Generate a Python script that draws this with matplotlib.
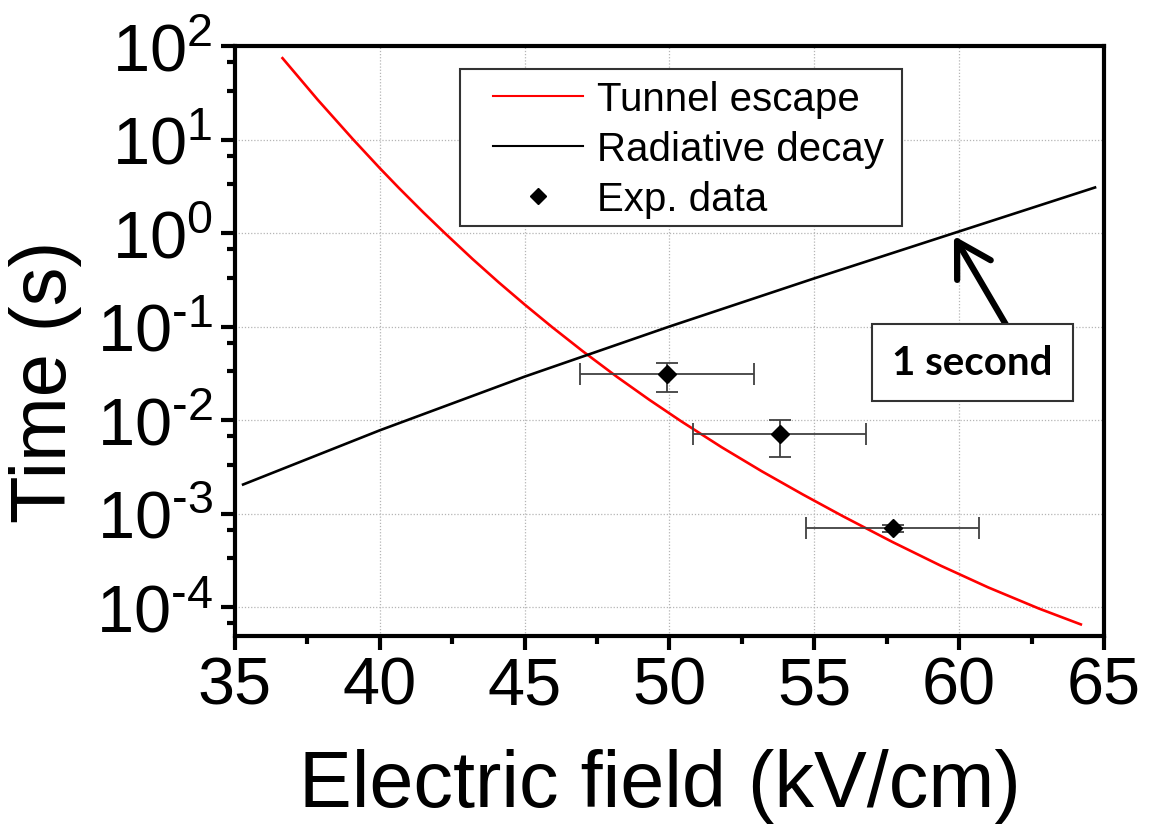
import math
import matplotlib
matplotlib.use("Agg")
import matplotlib.pyplot as plt
from matplotlib.ticker import LogLocator, MultipleLocator, FuncFormatter, NullFormatter
from matplotlib.lines import Line2D
from matplotlib.patches import Rectangle

# Tunnel escape time vs field
tunnel_field = [36.64, 37.86, 39.08, 40.0, 40.66, 41.5, 42.24, 43.2, 44.1,
                45.0, 45.95, 47.0, 48.18, 49.3, 50.4, 51.8, 53.19, 54.6,
                55.98, 57.7, 59.37, 61.0, 62.75, 64.2]
tunnel_time = [74.13, 26.51, 10.0, 4.932, 3.027, 1.663, 1.000, 0.5272, 0.2972,
               0.1718, 0.0984, 0.05458, 0.02904, 0.01648, 0.009705, 0.005117,
               0.002825, 0.001600, 0.0009376, 0.0004955, 0.0002761, 0.0001622,
               0.00009638, 0.00006516]

# Radiative decay time vs field
rad_field = [35.28, 40.0, 45.0, 50.0, 55.0, 60.0, 64.69]
rad_time = [0.002042, 0.007762, 0.02911, 0.1000, 0.3273, 1.040, 3.069]

# Measured lifetimes
exp_field = [49.9, 53.8, 57.7]
exp_time = [0.031, 0.0071, 0.00070]
exp_time_lo = [0.011, 0.0031, 0.00006]
exp_time_hi = [0.010, 0.0029, 0.00006]
exp_field_err = [3.0, 3.0, 3.0]

legend_labels = ["Tunnel escape", "Radiative decay", "Exp. data"]

plt.rcParams["font.family"] = ["Liberation Sans", "DejaVu Sans"]
plt.rcParams["mathtext.fontset"] = "custom"
plt.rcParams["mathtext.rm"] = "Liberation Sans"
plt.rcParams["mathtext.it"] = "Liberation Sans"

W, H = 1150, 828
fig = plt.figure(figsize=(W / 100, H / 100), dpi=100)
ax = fig.add_axes([235 / W, 1 - 637 / H, 869 / W, 590 / H])

ax.plot(tunnel_field, tunnel_time, color="#ff0000", lw=1.9, zorder=3,
        solid_joinstyle="round")
ax.plot(rad_field, rad_time, color="black", lw=1.9, zorder=3,
        solid_joinstyle="round")
ax.errorbar(exp_field, exp_time, xerr=exp_field_err,
            yerr=[exp_time_lo, exp_time_hi], fmt="none", ecolor="#404040",
            elinewidth=1.3, capsize=8, capthick=1.3, zorder=4)
ax.plot(exp_field, exp_time, ls="none", marker="D", ms=9, color="black", zorder=5)

ax.set_yscale("log")
ax.set_xlim(35, 65)
ax.set_ylim(10 ** -4.31, 100)

ax.xaxis.set_major_locator(MultipleLocator(5))
ax.xaxis.set_minor_locator(MultipleLocator(2.5))
ax.yaxis.set_major_locator(LogLocator(base=10, numticks=20))
ax.yaxis.set_minor_locator(LogLocator(base=10, subs=(10 / 3, 20 / 3), numticks=20))
ax.yaxis.set_minor_formatter(NullFormatter())


def decade_label(v, pos):
    e = int(round(math.log10(v)))
    if e < 0:
        return r"$\mathregular{10^{\text{-%d}}}$" % (-e)
    return r"$\mathregular{10^{%d}}$" % e


ax.yaxis.set_major_formatter(FuncFormatter(decade_label))

ax.tick_params(which="major", direction="out", length=10, width=3,
               labelsize=48, top=False, right=False)
ax.tick_params(axis="y", which="major", pad=6)
ax.tick_params(axis="x", which="major", pad=4)
ax.tick_params(which="minor", direction="out", length=5.5, width=3,
               top=False, right=False)
for s in ax.spines.values():
    s.set_linewidth(3)

ax.grid(True, which="major", ls=(0, (1, 1.5)), color="#b5b5b5", lw=0.9)
ax.set_axisbelow(True)

ax.set_xlabel("Electric field (kV/cm)", fontsize=57)
ax.set_ylabel("Time (s)", fontsize=56)
ax.xaxis.label.set_va("center")
ax.yaxis.label.set_va("center")
ax.xaxis.set_label_coords(0.489, -0.253)
ax.yaxis.set_label_coords(-0.218, 0.432)

# Legend: frame drawn as its own box, entries placed inside it
ax.add_patch(Rectangle((460 / W, 1 - 227 / H), 442 / W, 157 / H,
                       transform=fig.transFigure, fc="white", ec="#333333",
                       lw=1.5, zorder=4.6, clip_on=False))
handles = [
    Line2D([], [], color="#ff0000", lw=1.5),
    Line2D([], [], color="black", lw=1.5),
    Line2D([], [], ls="none", marker="D", ms=8, color="black"),
]
leg = ax.legend(handles, legend_labels, loc="upper left",
                bbox_to_anchor=(493 / W, 1 - 81 / H),
                bbox_transform=fig.transFigure, fontsize=29, frameon=False,
                handlelength=2.23, handletextpad=0.35, labelspacing=0.3,
                borderpad=0, borderaxespad=0)
leg.set_zorder(5)

# "1 second" callout
ax.annotate("", xy=(59.82, 0.93), xytext=(61.62, 0.104),
            arrowprops=dict(arrowstyle="->,head_length=0.6,head_width=0.35",
                            lw=4.5, color="black", mutation_scale=40,
                            shrinkA=0, shrinkB=0), zorder=6)
ax.text(60.45, 0.041, "1 second", fontsize=29, fontweight="bold",
        family=["Lato", "DejaVu Sans"], ha="center", va="center", zorder=7,
        bbox=dict(boxstyle="square,pad=0.5", fc="white", ec="#333333", lw=1.5))

fig.savefig("out.png", dpi=100)
